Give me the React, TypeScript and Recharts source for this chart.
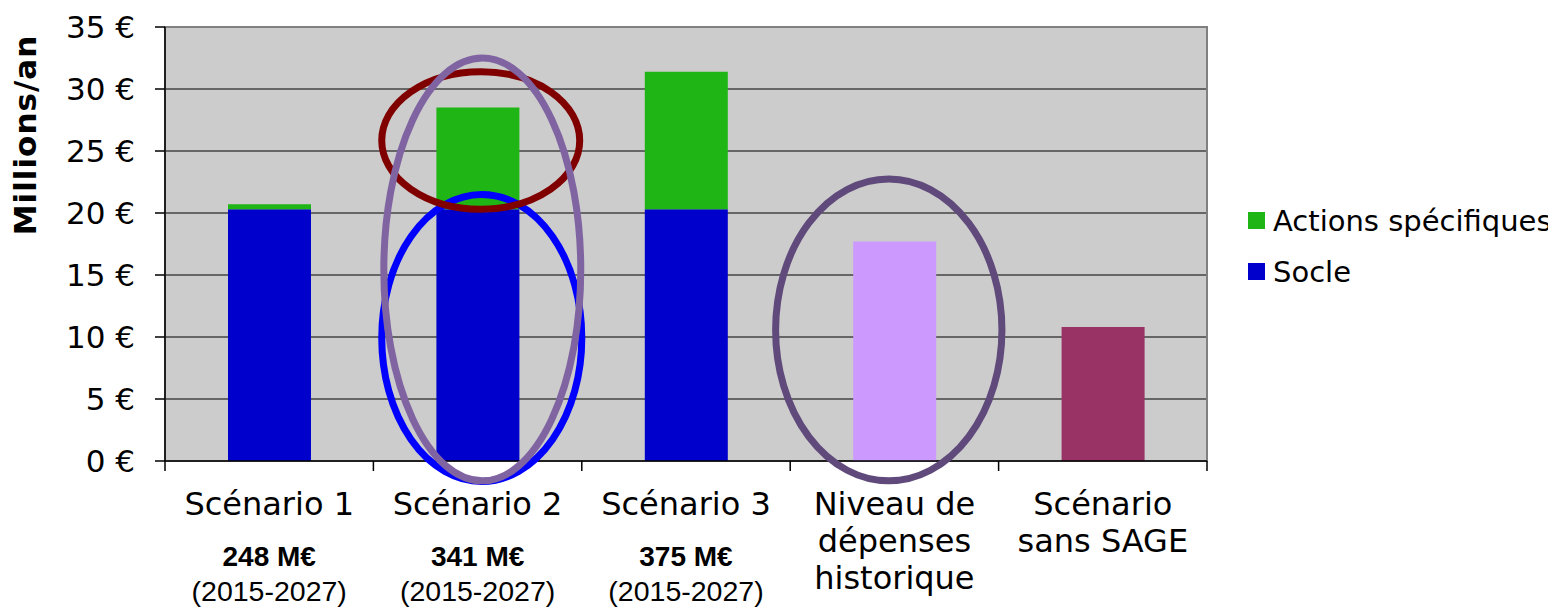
import React from 'react';
import { BarChart, Bar, XAxis, YAxis, CartesianGrid, Legend, ReferenceArea, ReferenceLine, Cell } from 'recharts';

const categories = ['Scénario 1', 'Scénario 2', 'Scénario 3', 'Niveau de dépenses historique', 'Scénario sans SAGE'];
const categoryLines = [['Scénario 1'], ['Scénario 2'], ['Scénario 3'], ['Niveau de', 'dépenses', 'historique'], ['Scénario', 'sans SAGE']];
const totalLabels = ['248 M€', '341 M€', '375 M€', '', ''];
const periodLabels = ['(2015-2027)', '(2015-2027)', '(2015-2027)', '', ''];

const socle = [20.3, 20.3, 20.3, null, null];
const actions = [0.4, 8.2, 11.1, null, null];
const otherLevels = [null, null, null, 17.7, 10.8];
const otherColors = ['#000000', '#000000', '#000000', '#CC99FF', '#993366'];

const yTicks = [0, 5, 10, 15, 20, 25, 30, 35];
const edgeTicks = [0, 1, 2, 3, 4, 5];

const GREEN = '#1FB515';
const BLUE = '#0000CC';

const legendItems = [
  { label: 'Actions spécifiques', color: GREEN },
  { label: 'Socle', color: BLUE },
];

// Annotation ellipses, bounds in axis units (category slots on x, € millions on y)
const ellipses = [
  { x1: 1.04, x2: 2.0, y1: -1.65, y2: 21.5, color: '#0000FF' },
  { x1: 1.04, x2: 1.99, y1: 20.3, y2: 31.4, color: '#800000' },
  { x1: 1.05, x2: 1.995, y1: -1.6, y2: 32.5, color: '#8064A2' },
  { x1: 2.93, x2: 4.016, y1: -1.6, y2: 22.74, color: '#604A7B' },
];

const data = categories.map((c, i) => ({
  name: c,
  socle: socle[i],
  actions: actions[i],
  other: otherLevels[i],
}));

const slotOf = (d: any) => categories.indexOf(d.name);

const FONT = '"DejaVu Sans", Verdana, sans-serif';
const ARIAL = '"Liberation Sans", Arial, sans-serif';

const CategoryTick = (props: any) => {
  const { x, y, payload } = props;
  const i = categories.indexOf(payload.value);
  if (i < 0) return null;
  const lines = categoryLines[i];
  return (
    <g>
      {lines.map((l, k) => (
        <text key={k} x={x} y={y + 54 + k * 37} textAnchor="middle" fontSize={32} fontFamily={FONT} fill="#000">
          {l}
        </text>
      ))}
      {totalLabels[i] ? (
        <text x={x} y={y + 105} textAnchor="middle" fontSize={28} fontWeight="bold" fontFamily={ARIAL} fill="#000">
          {totalLabels[i]}
        </text>
      ) : null}
      {periodLabels[i] ? (
        <text x={x} y={y + 140} textAnchor="middle" fontSize={28.5} fontFamily={ARIAL} fill="#000">
          {periodLabels[i]}
        </text>
      ) : null}
    </g>
  );
};

const YTitle = (props: any) => {
  const vb = props.viewBox || { x: 0, y: 0 };
  const cx = vb.x + 28;
  const cy = vb.y + 108;
  return (
    <text
      x={cx}
      y={cy}
      transform={`rotate(-90, ${cx}, ${cy})`}
      textAnchor="middle"
      fontSize={31}
      letterSpacing={1}
      fontWeight="bold"
      fontFamily={FONT}
      fill="#000"
    >
      Millions/an
    </text>
  );
};

const LegendContent = () => (
  <div style={{ fontFamily: FONT, fontSize: 29, color: '#000' }}>
    {legendItems.map((it) => (
      <div key={it.label} style={{ display: 'flex', alignItems: 'center', height: 51 }}>
        <span style={{ display: 'inline-block', width: 17, height: 17, background: it.color, marginRight: 8 }} />
        <span style={{ whiteSpace: 'nowrap' }}>{it.label}</span>
      </div>
    ))}
  </div>
);

const ellipseShape = (color: string) => (p: any) => {
  const { x, y, width, height } = p;
  return (
    <ellipse
      cx={x + width / 2}
      cy={y + height / 2}
      rx={Math.abs(width) / 2}
      ry={Math.abs(height) / 2}
      fill="none"
      stroke={color}
      strokeWidth={7}
    />
  );
};

// Short outward tick mark at a category boundary, hanging below the x axis line
const edgeTickShape = (p: any) => {
  const bottom = Math.max(p.y1, p.y2);
  return <line x1={p.x1} y1={bottom} x2={p.x1} y2={bottom + 10} stroke="#000" strokeWidth={1.5} />;
};

export default function App() {
  return (
    <div style={{ width: 1548, height: 599 }}>
      <BarChart
        width={1548}
        height={599}
        data={data}
        margin={{ top: 19, right: 349, bottom: 0, left: 0 }}
        barCategoryGap={0}
      >
        <CartesianGrid vertical={false} fill="#CCCCCC" stroke="#000000" horizontalValues={yTicks} xAxisId="cat" />
        <XAxis
          xAxisId="cat"
          dataKey="name"
          type="category"
          height={146}
          tickLine={false}
          tickSize={0}
          tickMargin={0}
          axisLine={{ stroke: '#000', strokeWidth: 1.5 }}
          tick={<CategoryTick />}
          interval={0}
        />
        <XAxis
          xAxisId="edges"
          type="number"
          dataKey={slotOf}
          domain={[0, 5]}
          ticks={edgeTicks}
          allowDataOverflow
          hide
        />
        <YAxis
          width={157}
          domain={[0, 35]}
          ticks={yTicks}
          interval={0}
          tickSize={10}
          tickMargin={20}
          axisLine={{ stroke: '#000', strokeWidth: 1.5 }}
          tickLine={{ stroke: '#000', strokeWidth: 1.5 }}
          tickFormatter={(v: number) => `${v} €`}
          tick={{ fontSize: 31, fontFamily: FONT, fill: '#000' }}
          label={<YTitle />}
        />
        <ReferenceArea
          xAxisId="edges"
          x1={0}
          x2={5}
          y1={0}
          y2={35}
          fill="none"
          fillOpacity={0}
          stroke="#808080"
          strokeWidth={2}
          ifOverflow="visible"
        />
        {edgeTicks.map((t) => (
          <ReferenceLine key={`e${t}`} xAxisId="edges" x={t} ifOverflow="visible" shape={edgeTickShape} />
        ))}
        <Bar xAxisId="cat" dataKey="socle" stackId="s" fill={BLUE} barSize={83} isAnimationActive={false} />
        <Bar xAxisId="cat" dataKey="actions" stackId="s" fill={GREEN} barSize={83} isAnimationActive={false} />
        <Bar xAxisId="cat" dataKey="other" stackId="s" barSize={83} isAnimationActive={false} legendType="none">
          {data.map((d, i) => (
            <Cell key={d.name} fill={otherColors[i]} />
          ))}
        </Bar>
        {ellipses.map((e, i) => (
          <ReferenceArea
            key={i}
            xAxisId="edges"
            x1={e.x1}
            x2={e.x2}
            y1={e.y1}
            y2={e.y2}
            ifOverflow="visible"
            shape={ellipseShape(e.color)}
            zIndex={700}
          />
        ))}
        <Legend
          layout="horizontal"
          verticalAlign="middle"
          align="center"
          wrapperStyle={{ left: 1240, top: 187, width: 308, height: 102 }}
          content={<LegendContent />}
        />
      </BarChart>
    </div>
  );
}
